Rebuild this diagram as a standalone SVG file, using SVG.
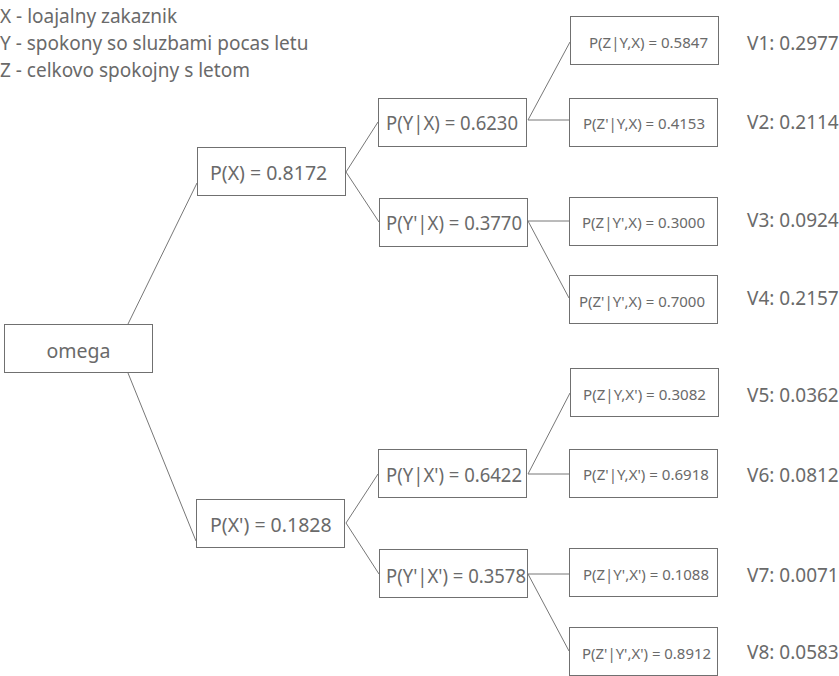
<svg xmlns="http://www.w3.org/2000/svg" width="839" height="676" viewBox="0 0 839 676">
<style>
.b{fill:#fff;stroke:#707070;stroke-width:1}
.t{font-family:"Noto Sans","Open Sans",sans-serif;fill:#6a6a6a;dominant-baseline:central}
.h{font-size:19px}
.m{font-size:19.5px}
.s{font-size:14.5px}
.v{font-size:19px}
.c{stroke:#777;stroke-width:1;fill:none}
</style>
<rect width="839" height="676" fill="#fff"/>
<g id="legend">
<text class="t h" x="0" y="16">X - loajalny zakaznik</text>
<text class="t h" x="0" y="43">Y - spokony so sluzbami pocas letu</text>
<text class="t h" x="0" y="70">Z - celkovo spokojny s letom</text>
</g>
<g id="connectors">
<line class="c" x1="128" y1="324" x2="197" y2="183"/>
<line class="c" x1="128" y1="373" x2="196" y2="541"/>
<line class="c" x1="346" y1="172" x2="378" y2="122"/>
<line class="c" x1="346" y1="172" x2="379" y2="222"/>
<line class="c" x1="346" y1="523" x2="378" y2="474"/>
<line class="c" x1="346" y1="523" x2="379" y2="574"/>
<line class="c" x1="528" y1="120" x2="570" y2="42"/>
<line class="c" x1="528" y1="120" x2="569" y2="120"/>
<line class="c" x1="528" y1="221" x2="569" y2="221"/>
<line class="c" x1="528" y1="221" x2="569" y2="298"/>
<line class="c" x1="528" y1="474" x2="570" y2="393"/>
<line class="c" x1="528" y1="474" x2="569" y2="474"/>
<line class="c" x1="528" y1="574" x2="569" y2="574"/>
<line class="c" x1="528" y1="574" x2="569" y2="651"/>
</g>
<g id="omega"><rect class="b" x="4.5" y="324.5" width="148" height="48"/><text class="t m" x="78.5" y="350" text-anchor="middle">omega</text></g>
<g id="px"><rect class="b" x="197.5" y="147.5" width="148" height="48"/><text class="t m" x="210" y="172">P(X) = 0.8172</text></g>
<g id="pxn"><rect class="b" x="196.5" y="499.5" width="148" height="48"/><text class="t m" x="210" y="524">P(X') = 0.1828</text></g>
<g id="pyx"><rect class="b" x="378.5" y="98.5" width="148" height="48"/><text class="t m" x="386" y="122" textLength="132" lengthAdjust="spacingAndGlyphs">P(Y|X) = 0.6230</text></g>
<g id="pynx"><rect class="b" x="379.5" y="198.5" width="148" height="48"/><text class="t m" x="386" y="222" textLength="136" lengthAdjust="spacingAndGlyphs">P(Y'|X) = 0.3770</text></g>
<g id="pyxn"><rect class="b" x="378.5" y="449.5" width="148" height="48"/><text class="t m" x="386" y="474" textLength="136" lengthAdjust="spacingAndGlyphs">P(Y|X') = 0.6422</text></g>
<g id="pynxn"><rect class="b" x="379.5" y="549.5" width="148" height="48"/><text class="t m" x="386" y="575" textLength="140" lengthAdjust="spacingAndGlyphs">P(Y'|X') = 0.3578</text></g>
<g id="z1"><rect class="b" x="570.5" y="16.5" width="148" height="48"/><text class="t s" x="589" y="42" textLength="119" lengthAdjust="spacingAndGlyphs">P(Z|Y,X) = 0.5847</text></g>
<g id="z2"><rect class="b" x="569.5" y="98.5" width="148" height="48"/><text class="t s" x="583" y="123" textLength="122" lengthAdjust="spacingAndGlyphs">P(Z'|Y,X) = 0.4153</text></g>
<g id="z3"><rect class="b" x="569.5" y="197.5" width="148" height="48"/><text class="t s" x="582" y="222" textLength="123" lengthAdjust="spacingAndGlyphs">P(Z|Y',X) = 0.3000</text></g>
<g id="z4"><rect class="b" x="569.5" y="275.5" width="148" height="48"/><text class="t s" x="579" y="301" textLength="126" lengthAdjust="spacingAndGlyphs">P(Z'|Y',X) = 0.7000</text></g>
<g id="z5"><rect class="b" x="570.5" y="368.5" width="148" height="48"/><text class="t s" x="583" y="394" textLength="123" lengthAdjust="spacingAndGlyphs">P(Z|Y,X') = 0.3082</text></g>
<g id="z6"><rect class="b" x="569.5" y="449.5" width="148" height="48"/><text class="t s" x="583" y="474" textLength="126" lengthAdjust="spacingAndGlyphs">P(Z'|Y,X') = 0.6918</text></g>
<g id="z7"><rect class="b" x="569.5" y="548.5" width="148" height="48"/><text class="t s" x="583" y="574" textLength="126" lengthAdjust="spacingAndGlyphs">P(Z|Y',X') = 0.1088</text></g>
<g id="z8"><rect class="b" x="569.5" y="627.5" width="148" height="48"/><text class="t s" x="582" y="653" textLength="129" lengthAdjust="spacingAndGlyphs">P(Z'|Y',X') = 0.8912</text></g>
<g id="values">
<text class="t v" x="747" y="43">V1: 0.2977</text>
<text class="t v" x="747" y="122">V2: 0.2114</text>
<text class="t v" x="747" y="220">V3: 0.0924</text>
<text class="t v" x="747" y="298">V4: 0.2157</text>
<text class="t v" x="747" y="395">V5: 0.0362</text>
<text class="t v" x="747" y="475">V6: 0.0812</text>
<text class="t v" x="747" y="575">V7: 0.0071</text>
<text class="t v" x="747" y="652">V8: 0.0583</text>
</g>
</svg>
